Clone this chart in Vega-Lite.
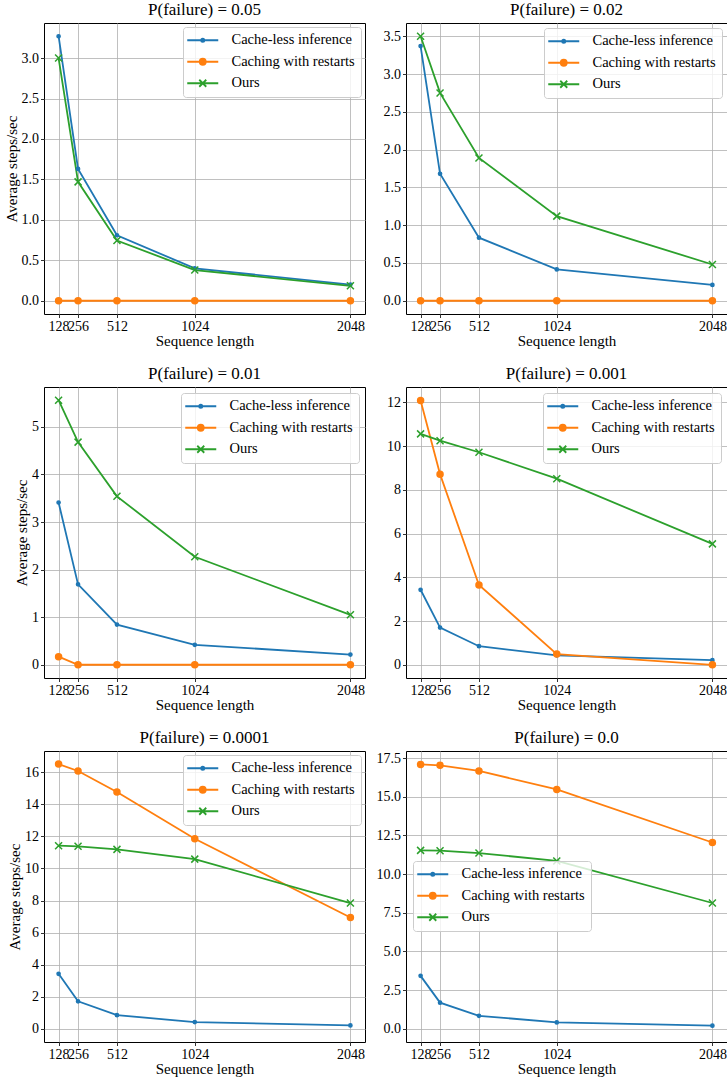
{
  "$schema": "https://vega.github.io/schema/vega-lite/v6.json",
  "padding": {"left": 3, "top": 0, "right": 2, "bottom": 2},
  "background": "white",
  "data": {"values": [
    {"p":"0.05","len":128,"series":"Cache-less inference","v":3.27},
    {"p":"0.05","len":256,"series":"Cache-less inference","v":1.63},
    {"p":"0.05","len":512,"series":"Cache-less inference","v":0.81},
    {"p":"0.05","len":1024,"series":"Cache-less inference","v":0.40},
    {"p":"0.05","len":2048,"series":"Cache-less inference","v":0.20},
    {"p":"0.05","len":128,"series":"Caching with restarts","v":0},
    {"p":"0.05","len":256,"series":"Caching with restarts","v":0},
    {"p":"0.05","len":512,"series":"Caching with restarts","v":0},
    {"p":"0.05","len":1024,"series":"Caching with restarts","v":0},
    {"p":"0.05","len":2048,"series":"Caching with restarts","v":0},
    {"p":"0.05","len":128,"series":"Ours","v":3.00},
    {"p":"0.05","len":256,"series":"Ours","v":1.47},
    {"p":"0.05","len":512,"series":"Ours","v":0.745},
    {"p":"0.05","len":1024,"series":"Ours","v":0.38},
    {"p":"0.05","len":2048,"series":"Ours","v":0.185},

    {"p":"0.02","len":128,"series":"Cache-less inference","v":3.37},
    {"p":"0.02","len":256,"series":"Cache-less inference","v":1.68},
    {"p":"0.02","len":512,"series":"Cache-less inference","v":0.835},
    {"p":"0.02","len":1024,"series":"Cache-less inference","v":0.415},
    {"p":"0.02","len":2048,"series":"Cache-less inference","v":0.21},
    {"p":"0.02","len":128,"series":"Caching with restarts","v":0},
    {"p":"0.02","len":256,"series":"Caching with restarts","v":0},
    {"p":"0.02","len":512,"series":"Caching with restarts","v":0},
    {"p":"0.02","len":1024,"series":"Caching with restarts","v":0},
    {"p":"0.02","len":2048,"series":"Caching with restarts","v":0},
    {"p":"0.02","len":128,"series":"Ours","v":3.50},
    {"p":"0.02","len":256,"series":"Ours","v":2.75},
    {"p":"0.02","len":512,"series":"Ours","v":1.89},
    {"p":"0.02","len":1024,"series":"Ours","v":1.12},
    {"p":"0.02","len":2048,"series":"Ours","v":0.48},

    {"p":"0.01","len":128,"series":"Cache-less inference","v":3.41},
    {"p":"0.01","len":256,"series":"Cache-less inference","v":1.69},
    {"p":"0.01","len":512,"series":"Cache-less inference","v":0.845},
    {"p":"0.01","len":1024,"series":"Cache-less inference","v":0.42},
    {"p":"0.01","len":2048,"series":"Cache-less inference","v":0.215},
    {"p":"0.01","len":128,"series":"Caching with restarts","v":0.17},
    {"p":"0.01","len":256,"series":"Caching with restarts","v":0},
    {"p":"0.01","len":512,"series":"Caching with restarts","v":0},
    {"p":"0.01","len":1024,"series":"Caching with restarts","v":0},
    {"p":"0.01","len":2048,"series":"Caching with restarts","v":0},
    {"p":"0.01","len":128,"series":"Ours","v":5.56},
    {"p":"0.01","len":256,"series":"Ours","v":4.68},
    {"p":"0.01","len":512,"series":"Ours","v":3.54},
    {"p":"0.01","len":1024,"series":"Ours","v":2.27},
    {"p":"0.01","len":2048,"series":"Ours","v":1.05},

    {"p":"0.001","len":128,"series":"Cache-less inference","v":3.43},
    {"p":"0.001","len":256,"series":"Cache-less inference","v":1.70},
    {"p":"0.001","len":512,"series":"Cache-less inference","v":0.85},
    {"p":"0.001","len":1024,"series":"Cache-less inference","v":0.43},
    {"p":"0.001","len":2048,"series":"Cache-less inference","v":0.21},
    {"p":"0.001","len":128,"series":"Caching with restarts","v":12.09},
    {"p":"0.001","len":256,"series":"Caching with restarts","v":8.72},
    {"p":"0.001","len":512,"series":"Caching with restarts","v":3.65},
    {"p":"0.001","len":1024,"series":"Caching with restarts","v":0.49},
    {"p":"0.001","len":2048,"series":"Caching with restarts","v":0.0},
    {"p":"0.001","len":128,"series":"Ours","v":10.56},
    {"p":"0.001","len":256,"series":"Ours","v":10.25},
    {"p":"0.001","len":512,"series":"Ours","v":9.72},
    {"p":"0.001","len":1024,"series":"Ours","v":8.51},
    {"p":"0.001","len":2048,"series":"Ours","v":5.53},

    {"p":"0.0001","len":128,"series":"Cache-less inference","v":3.43},
    {"p":"0.0001","len":256,"series":"Cache-less inference","v":1.71},
    {"p":"0.0001","len":512,"series":"Cache-less inference","v":0.85},
    {"p":"0.0001","len":1024,"series":"Cache-less inference","v":0.42},
    {"p":"0.0001","len":2048,"series":"Cache-less inference","v":0.21},
    {"p":"0.0001","len":128,"series":"Caching with restarts","v":16.51},
    {"p":"0.0001","len":256,"series":"Caching with restarts","v":16.08},
    {"p":"0.0001","len":512,"series":"Caching with restarts","v":14.77},
    {"p":"0.0001","len":1024,"series":"Caching with restarts","v":11.85},
    {"p":"0.0001","len":2048,"series":"Caching with restarts","v":6.94},
    {"p":"0.0001","len":128,"series":"Ours","v":11.42},
    {"p":"0.0001","len":256,"series":"Ours","v":11.38},
    {"p":"0.0001","len":512,"series":"Ours","v":11.19},
    {"p":"0.0001","len":1024,"series":"Ours","v":10.58},
    {"p":"0.0001","len":2048,"series":"Ours","v":7.84},

    {"p":"0.0","len":128,"series":"Cache-less inference","v":3.42},
    {"p":"0.0","len":256,"series":"Cache-less inference","v":1.69},
    {"p":"0.0","len":512,"series":"Cache-less inference","v":0.84},
    {"p":"0.0","len":1024,"series":"Cache-less inference","v":0.41},
    {"p":"0.0","len":2048,"series":"Cache-less inference","v":0.20},
    {"p":"0.0","len":128,"series":"Caching with restarts","v":17.09},
    {"p":"0.0","len":256,"series":"Caching with restarts","v":17.03},
    {"p":"0.0","len":512,"series":"Caching with restarts","v":16.67},
    {"p":"0.0","len":1024,"series":"Caching with restarts","v":15.47},
    {"p":"0.0","len":2048,"series":"Caching with restarts","v":12.04},
    {"p":"0.0","len":128,"series":"Ours","v":11.53},
    {"p":"0.0","len":256,"series":"Ours","v":11.51},
    {"p":"0.0","len":512,"series":"Ours","v":11.36},
    {"p":"0.0","len":1024,"series":"Ours","v":10.85},
    {"p":"0.0","len":2048,"series":"Ours","v":8.13}
  ]},
  "columns": 2,
  "bounds": "flush",
  "spacing": {"column": 41, "row": 73},
  "resolve": {"legend": {"color": "independent"}},
  "concat": [
    {
      "title": "P(failure) = 0.05",
      "width": 321, "height": 291,
      "transform": [{"filter": "datum.p === '0.05'"}],
      "encoding": {
        "x": {"field": "len", "type": "quantitative", "scale": {"domain": [32, 2144], "nice": false, "zero": false}, "axis": {"values": [128, 256, 512, 1024, 2048], "format": "d", "title": "Sequence length"}},
        "y": {"field": "v", "type": "quantitative", "scale": {"domain": [-0.1635, 3.4335], "nice": false, "zero": false}, "axis": {"values": [0, 0.5, 1, 1.5, 2, 2.5, 3], "format": ".1f", "title": "Average steps/sec"}},
        "color": {"field": "series", "type": "nominal", "scale": {"domain": ["Cache-less inference", "Caching with restarts", "Ours"], "range": ["#1f77b4", "#ff7f0e", "#2ca02c"]},
          "legend": {"orient": "top-right", "offset": 4,
            "encode": {"symbols": {"update": {
              "shape": [{"test": "datum.value === 'Cache-less inference'", "value": "M-1.8,0L4.4,0M0.98,0A0.32,0.32 0 1,0 1.62,0A0.32,0.32 0 1,0 0.98,0"}, {"test": "datum.value === 'Caching with restarts'", "value": "M-1.8,0L4.4,0M0.7,0A0.6,0.6 0 1,0 1.9,0A0.6,0.6 0 1,0 0.7,0"}, {"value": "M-1.8,0L4.4,0M0.6,-0.7L2.0,0.7M0.6,0.7L2.0,-0.7"}],
              "fill": [{"test": "datum.value === 'Cache-less inference'", "value": "#1f77b4"}, {"test": "datum.value === 'Caching with restarts'", "value": "#ff7f0e"}, {"value": "#2ca02c"}],
              "stroke": [{"test": "datum.value === 'Cache-less inference'", "value": "#1f77b4"}, {"test": "datum.value === 'Caching with restarts'", "value": "#ff7f0e"}, {"value": "#2ca02c"}],
              "strokeWidth": {"value": 1.8}, "opacity": {"value": 1}, "fillOpacity": {"value": 1}}}}}}
      },
      "layer": [
        {"mark": {"type": "line", "strokeWidth": 1.8}},
        {"mark": {"type": "point", "filled": true, "size": 64, "strokeWidth": 1.5, "opacity": 1},
         "encoding": {
           "shape": {"field": "series", "type": "nominal", "scale": {"domain": ["Cache-less inference", "Caching with restarts", "Ours"], "range": ["M-0.4,0A0.4,0.4 0 1,0 0.4,0A0.4,0.4 0 1,0 -0.4,0", "M-0.75,0A0.75,0.75 0 1,0 0.75,0A0.75,0.75 0 1,0 -0.75,0", "M-0.875,-0.875L0.875,0.875M-0.875,0.875L0.875,-0.875"]}, "legend": null},
           "stroke": {"field": "series", "type": "nominal", "scale": {"domain": ["Cache-less inference", "Caching with restarts", "Ours"], "range": ["#1f77b4", "#ff7f0e", "#2ca02c"]}, "legend": null}
         }}
      ]
    },
    {
      "title": "P(failure) = 0.02",
      "width": 321, "height": 291,
      "transform": [{"filter": "datum.p === '0.02'"}],
      "encoding": {
        "x": {"field": "len", "type": "quantitative", "scale": {"domain": [32, 2144], "nice": false, "zero": false}, "axis": {"values": [128, 256, 512, 1024, 2048], "format": "d", "title": "Sequence length"}},
        "y": {"field": "v", "type": "quantitative", "scale": {"domain": [-0.175, 3.675], "nice": false, "zero": false}, "axis": {"values": [0, 0.5, 1, 1.5, 2, 2.5, 3, 3.5], "format": ".1f", "title": null}},
        "color": {"field": "series", "type": "nominal", "scale": {"domain": ["Cache-less inference", "Caching with restarts", "Ours"], "range": ["#1f77b4", "#ff7f0e", "#2ca02c"]},
          "legend": {"orient": "top-right", "offset": 5,
            "encode": {"symbols": {"update": {
              "shape": [{"test": "datum.value === 'Cache-less inference'", "value": "M-1.8,0L4.4,0M0.98,0A0.32,0.32 0 1,0 1.62,0A0.32,0.32 0 1,0 0.98,0"}, {"test": "datum.value === 'Caching with restarts'", "value": "M-1.8,0L4.4,0M0.7,0A0.6,0.6 0 1,0 1.9,0A0.6,0.6 0 1,0 0.7,0"}, {"value": "M-1.8,0L4.4,0M0.6,-0.7L2.0,0.7M0.6,0.7L2.0,-0.7"}],
              "fill": [{"test": "datum.value === 'Cache-less inference'", "value": "#1f77b4"}, {"test": "datum.value === 'Caching with restarts'", "value": "#ff7f0e"}, {"value": "#2ca02c"}],
              "stroke": [{"test": "datum.value === 'Cache-less inference'", "value": "#1f77b4"}, {"test": "datum.value === 'Caching with restarts'", "value": "#ff7f0e"}, {"value": "#2ca02c"}],
              "strokeWidth": {"value": 1.8}, "opacity": {"value": 1}, "fillOpacity": {"value": 1}}}}}}
      },
      "layer": [
        {"mark": {"type": "line", "strokeWidth": 1.8}},
        {"mark": {"type": "point", "filled": true, "size": 64, "strokeWidth": 1.5, "opacity": 1},
         "encoding": {
           "shape": {"field": "series", "type": "nominal", "scale": {"domain": ["Cache-less inference", "Caching with restarts", "Ours"], "range": ["M-0.4,0A0.4,0.4 0 1,0 0.4,0A0.4,0.4 0 1,0 -0.4,0", "M-0.75,0A0.75,0.75 0 1,0 0.75,0A0.75,0.75 0 1,0 -0.75,0", "M-0.875,-0.875L0.875,0.875M-0.875,0.875L0.875,-0.875"]}, "legend": null},
           "stroke": {"field": "series", "type": "nominal", "scale": {"domain": ["Cache-less inference", "Caching with restarts", "Ours"], "range": ["#1f77b4", "#ff7f0e", "#2ca02c"]}, "legend": null}
         }}
      ]
    },
    {
      "title": "P(failure) = 0.01",
      "width": 321, "height": 291,
      "transform": [{"filter": "datum.p === '0.01'"}],
      "encoding": {
        "x": {"field": "len", "type": "quantitative", "scale": {"domain": [32, 2144], "nice": false, "zero": false}, "axis": {"values": [128, 256, 512, 1024, 2048], "format": "d", "title": "Sequence length"}},
        "y": {"field": "v", "type": "quantitative", "scale": {"domain": [-0.278, 5.838], "nice": false, "zero": false}, "axis": {"values": [0, 1, 2, 3, 4, 5], "format": "d", "title": "Average steps/sec"}},
        "color": {"field": "series", "type": "nominal", "scale": {"domain": ["Cache-less inference", "Caching with restarts", "Ours"], "range": ["#1f77b4", "#ff7f0e", "#2ca02c"]},
          "legend": {"orient": "top-right", "offset": 6,
            "encode": {"symbols": {"update": {
              "shape": [{"test": "datum.value === 'Cache-less inference'", "value": "M-1.8,0L4.4,0M0.98,0A0.32,0.32 0 1,0 1.62,0A0.32,0.32 0 1,0 0.98,0"}, {"test": "datum.value === 'Caching with restarts'", "value": "M-1.8,0L4.4,0M0.7,0A0.6,0.6 0 1,0 1.9,0A0.6,0.6 0 1,0 0.7,0"}, {"value": "M-1.8,0L4.4,0M0.6,-0.7L2.0,0.7M0.6,0.7L2.0,-0.7"}],
              "fill": [{"test": "datum.value === 'Cache-less inference'", "value": "#1f77b4"}, {"test": "datum.value === 'Caching with restarts'", "value": "#ff7f0e"}, {"value": "#2ca02c"}],
              "stroke": [{"test": "datum.value === 'Cache-less inference'", "value": "#1f77b4"}, {"test": "datum.value === 'Caching with restarts'", "value": "#ff7f0e"}, {"value": "#2ca02c"}],
              "strokeWidth": {"value": 1.8}, "opacity": {"value": 1}, "fillOpacity": {"value": 1}}}}}}
      },
      "layer": [
        {"mark": {"type": "line", "strokeWidth": 1.8}},
        {"mark": {"type": "point", "filled": true, "size": 64, "strokeWidth": 1.5, "opacity": 1},
         "encoding": {
           "shape": {"field": "series", "type": "nominal", "scale": {"domain": ["Cache-less inference", "Caching with restarts", "Ours"], "range": ["M-0.4,0A0.4,0.4 0 1,0 0.4,0A0.4,0.4 0 1,0 -0.4,0", "M-0.75,0A0.75,0.75 0 1,0 0.75,0A0.75,0.75 0 1,0 -0.75,0", "M-0.875,-0.875L0.875,0.875M-0.875,0.875L0.875,-0.875"]}, "legend": null},
           "stroke": {"field": "series", "type": "nominal", "scale": {"domain": ["Cache-less inference", "Caching with restarts", "Ours"], "range": ["#1f77b4", "#ff7f0e", "#2ca02c"]}, "legend": null}
         }}
      ]
    },
    {
      "title": "P(failure) = 0.001",
      "width": 321, "height": 291,
      "transform": [{"filter": "datum.p === '0.001'"}],
      "encoding": {
        "x": {"field": "len", "type": "quantitative", "scale": {"domain": [32, 2144], "nice": false, "zero": false}, "axis": {"values": [128, 256, 512, 1024, 2048], "format": "d", "title": "Sequence length"}},
        "y": {"field": "v", "type": "quantitative", "scale": {"domain": [-0.605, 12.705], "nice": false, "zero": false}, "axis": {"values": [0, 2, 4, 6, 8, 10, 12], "format": "d", "title": null}},
        "color": {"field": "series", "type": "nominal", "scale": {"domain": ["Cache-less inference", "Caching with restarts", "Ours"], "range": ["#1f77b4", "#ff7f0e", "#2ca02c"]},
          "legend": {"orient": "top-right", "offset": 6,
            "encode": {"symbols": {"update": {
              "shape": [{"test": "datum.value === 'Cache-less inference'", "value": "M-1.8,0L4.4,0M0.98,0A0.32,0.32 0 1,0 1.62,0A0.32,0.32 0 1,0 0.98,0"}, {"test": "datum.value === 'Caching with restarts'", "value": "M-1.8,0L4.4,0M0.7,0A0.6,0.6 0 1,0 1.9,0A0.6,0.6 0 1,0 0.7,0"}, {"value": "M-1.8,0L4.4,0M0.6,-0.7L2.0,0.7M0.6,0.7L2.0,-0.7"}],
              "fill": [{"test": "datum.value === 'Cache-less inference'", "value": "#1f77b4"}, {"test": "datum.value === 'Caching with restarts'", "value": "#ff7f0e"}, {"value": "#2ca02c"}],
              "stroke": [{"test": "datum.value === 'Cache-less inference'", "value": "#1f77b4"}, {"test": "datum.value === 'Caching with restarts'", "value": "#ff7f0e"}, {"value": "#2ca02c"}],
              "strokeWidth": {"value": 1.8}, "opacity": {"value": 1}, "fillOpacity": {"value": 1}}}}}}
      },
      "layer": [
        {"mark": {"type": "line", "strokeWidth": 1.8}},
        {"mark": {"type": "point", "filled": true, "size": 64, "strokeWidth": 1.5, "opacity": 1},
         "encoding": {
           "shape": {"field": "series", "type": "nominal", "scale": {"domain": ["Cache-less inference", "Caching with restarts", "Ours"], "range": ["M-0.4,0A0.4,0.4 0 1,0 0.4,0A0.4,0.4 0 1,0 -0.4,0", "M-0.75,0A0.75,0.75 0 1,0 0.75,0A0.75,0.75 0 1,0 -0.75,0", "M-0.875,-0.875L0.875,0.875M-0.875,0.875L0.875,-0.875"]}, "legend": null},
           "stroke": {"field": "series", "type": "nominal", "scale": {"domain": ["Cache-less inference", "Caching with restarts", "Ours"], "range": ["#1f77b4", "#ff7f0e", "#2ca02c"]}, "legend": null}
         }}
      ]
    },
    {
      "title": "P(failure) = 0.0001",
      "width": 321, "height": 291,
      "transform": [{"filter": "datum.p === '0.0001'"}],
      "encoding": {
        "x": {"field": "len", "type": "quantitative", "scale": {"domain": [32, 2144], "nice": false, "zero": false}, "axis": {"values": [128, 256, 512, 1024, 2048], "format": "d", "title": "Sequence length"}},
        "y": {"field": "v", "type": "quantitative", "scale": {"domain": [-0.825, 17.325], "nice": false, "zero": false}, "axis": {"values": [0, 2, 4, 6, 8, 10, 12, 14, 16], "format": "d", "title": "Average steps/sec"}},
        "color": {"field": "series", "type": "nominal", "scale": {"domain": ["Cache-less inference", "Caching with restarts", "Ours"], "range": ["#1f77b4", "#ff7f0e", "#2ca02c"]},
          "legend": {"orient": "top-right", "offset": 4,
            "encode": {"symbols": {"update": {
              "shape": [{"test": "datum.value === 'Cache-less inference'", "value": "M-1.8,0L4.4,0M0.98,0A0.32,0.32 0 1,0 1.62,0A0.32,0.32 0 1,0 0.98,0"}, {"test": "datum.value === 'Caching with restarts'", "value": "M-1.8,0L4.4,0M0.7,0A0.6,0.6 0 1,0 1.9,0A0.6,0.6 0 1,0 0.7,0"}, {"value": "M-1.8,0L4.4,0M0.6,-0.7L2.0,0.7M0.6,0.7L2.0,-0.7"}],
              "fill": [{"test": "datum.value === 'Cache-less inference'", "value": "#1f77b4"}, {"test": "datum.value === 'Caching with restarts'", "value": "#ff7f0e"}, {"value": "#2ca02c"}],
              "stroke": [{"test": "datum.value === 'Cache-less inference'", "value": "#1f77b4"}, {"test": "datum.value === 'Caching with restarts'", "value": "#ff7f0e"}, {"value": "#2ca02c"}],
              "strokeWidth": {"value": 1.8}, "opacity": {"value": 1}, "fillOpacity": {"value": 1}}}}}}
      },
      "layer": [
        {"mark": {"type": "line", "strokeWidth": 1.8}},
        {"mark": {"type": "point", "filled": true, "size": 64, "strokeWidth": 1.5, "opacity": 1},
         "encoding": {
           "shape": {"field": "series", "type": "nominal", "scale": {"domain": ["Cache-less inference", "Caching with restarts", "Ours"], "range": ["M-0.4,0A0.4,0.4 0 1,0 0.4,0A0.4,0.4 0 1,0 -0.4,0", "M-0.75,0A0.75,0.75 0 1,0 0.75,0A0.75,0.75 0 1,0 -0.75,0", "M-0.875,-0.875L0.875,0.875M-0.875,0.875L0.875,-0.875"]}, "legend": null},
           "stroke": {"field": "series", "type": "nominal", "scale": {"domain": ["Cache-less inference", "Caching with restarts", "Ours"], "range": ["#1f77b4", "#ff7f0e", "#2ca02c"]}, "legend": null}
         }}
      ]
    },
    {
      "title": "P(failure) = 0.0",
      "width": 321, "height": 291,
      "transform": [{"filter": "datum.p === '0.0'"}],
      "encoding": {
        "x": {"field": "len", "type": "quantitative", "scale": {"domain": [32, 2144], "nice": false, "zero": false}, "axis": {"values": [128, 256, 512, 1024, 2048], "format": "d", "title": "Sequence length"}},
        "y": {"field": "v", "type": "quantitative", "scale": {"domain": [-0.855, 17.955], "nice": false, "zero": false}, "axis": {"values": [0, 2.5, 5, 7.5, 10, 12.5, 15, 17.5], "format": ".1f", "title": null}},
        "color": {"field": "series", "type": "nominal", "scale": {"domain": ["Cache-less inference", "Caching with restarts", "Ours"], "range": ["#1f77b4", "#ff7f0e", "#2ca02c"]},
          "legend": {"orient": "none", "legendX": 7, "legendY": 110,
            "encode": {"symbols": {"update": {
              "shape": [{"test": "datum.value === 'Cache-less inference'", "value": "M-1.8,0L4.4,0M0.98,0A0.32,0.32 0 1,0 1.62,0A0.32,0.32 0 1,0 0.98,0"}, {"test": "datum.value === 'Caching with restarts'", "value": "M-1.8,0L4.4,0M0.7,0A0.6,0.6 0 1,0 1.9,0A0.6,0.6 0 1,0 0.7,0"}, {"value": "M-1.8,0L4.4,0M0.6,-0.7L2.0,0.7M0.6,0.7L2.0,-0.7"}],
              "fill": [{"test": "datum.value === 'Cache-less inference'", "value": "#1f77b4"}, {"test": "datum.value === 'Caching with restarts'", "value": "#ff7f0e"}, {"value": "#2ca02c"}],
              "stroke": [{"test": "datum.value === 'Cache-less inference'", "value": "#1f77b4"}, {"test": "datum.value === 'Caching with restarts'", "value": "#ff7f0e"}, {"value": "#2ca02c"}],
              "strokeWidth": {"value": 1.8}, "opacity": {"value": 1}, "fillOpacity": {"value": 1}}}}}}
      },
      "layer": [
        {"mark": {"type": "line", "strokeWidth": 1.8}},
        {"mark": {"type": "point", "filled": true, "size": 64, "strokeWidth": 1.5, "opacity": 1},
         "encoding": {
           "shape": {"field": "series", "type": "nominal", "scale": {"domain": ["Cache-less inference", "Caching with restarts", "Ours"], "range": ["M-0.4,0A0.4,0.4 0 1,0 0.4,0A0.4,0.4 0 1,0 -0.4,0", "M-0.75,0A0.75,0.75 0 1,0 0.75,0A0.75,0.75 0 1,0 -0.75,0", "M-0.875,-0.875L0.875,0.875M-0.875,0.875L0.875,-0.875"]}, "legend": null},
           "stroke": {"field": "series", "type": "nominal", "scale": {"domain": ["Cache-less inference", "Caching with restarts", "Ours"], "range": ["#1f77b4", "#ff7f0e", "#2ca02c"]}, "legend": null}
         }}
      ]
    }
  ],
  "config": {
    "font": "Liberation Serif",
    "view": {"stroke": "black", "strokeWidth": 1},
    "axis": {"grid": true, "gridColor": "#b0b0b0", "gridWidth": 0.8, "domain": false, "tickColor": "black", "tickSize": 3.5, "tickWidth": 0.8, "labelFont": "Liberation Serif", "labelFontSize": 14, "labelColor": "black", "labelPadding": 2, "titleFont": "Liberation Serif", "titleFontSize": 15, "titleFontWeight": "normal", "titleColor": "black", "labelOverlap": false, "labelFlush": false, "labelBound": false, "titlePadding": 0},
    "axisY": {"titlePadding": 2},
    "title": {"font": "Liberation Serif", "fontSize": 17, "fontWeight": "normal", "color": "black", "offset": 4},
    "legend": {"title": null, "padding": 6, "rowPadding": 6.5, "fillColor": "rgba(255,255,255,0.8)", "strokeColor": "#cccccc", "cornerRadius": 3, "labelFont": "Liberation Serif", "labelFontSize": 14.5, "labelColor": "black", "symbolSize": 100, "labelOffset": 28, "symbolStrokeWidth": 1.8}
  }
}
